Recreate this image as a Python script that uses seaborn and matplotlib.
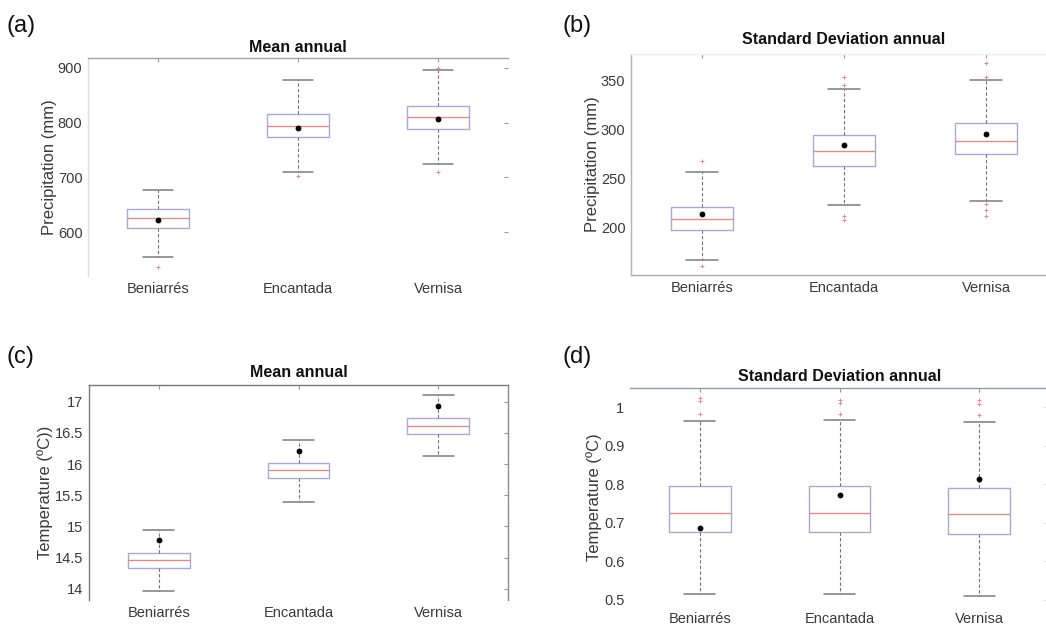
import numpy as np
import pandas as pd
import matplotlib
matplotlib.use("Agg")
import matplotlib.pyplot as plt
import seaborn as sns

# ---------------- data ----------------
categories = ["Beniarrés", "Encantada", "Vernisa"]

# (a) Precipitation, mean annual
a_low = [554, 710, 724]
a_q1 = [607, 773, 788]
a_med = [625, 793, 810]
a_q3 = [642, 816, 831]
a_high = [677, 878, 896]
a_mean = [622, 791, 807]
a_out_site = ["Beniarrés", "Encantada", "Vernisa", "Vernisa"]
a_out_val = [537, 703, 899, 709]

# (b) Precipitation, standard deviation annual
b_low = [167, 223.5, 227.6]
b_q1 = [197.7, 263.4, 275]
b_med = [209, 278, 288.6]
b_q3 = [221.5, 295, 306.4]
b_high = [256.6, 341, 350.7]
b_mean = [214, 284.6, 295.5]
b_out_site = ["Beniarrés", "Beniarrés", "Encantada", "Encantada", "Encantada", "Encantada",
              "Vernisa", "Vernisa", "Vernisa", "Vernisa", "Vernisa"]
b_out_val = [268, 161.5, 354, 345, 212, 208, 368, 354, 224, 218, 212]

# (c) Temperature, mean annual
c_low = [13.96, 15.40, 16.13]
c_q1 = [14.33, 15.77, 16.49]
c_med = [14.46, 15.90, 16.62]
c_q3 = [14.58, 16.02, 16.74]
c_high = [14.95, 16.39, 17.11]
c_mean = [14.78, 16.21, 16.94]
c_out_site = []
c_out_val = []

# (d) Temperature, standard deviation annual
d_low = [0.515, 0.515, 0.510]
d_q1 = [0.675, 0.675, 0.670]
d_med = [0.726, 0.726, 0.724]
d_q3 = [0.796, 0.796, 0.791]
d_high = [0.965, 0.966, 0.961]
d_mean = [0.686, 0.772, 0.814]
d_out_site = ["Beniarrés", "Beniarrés", "Beniarrés", "Encantada", "Encantada", "Encantada",
              "Vernisa", "Vernisa", "Vernisa"]
d_out_val = [1.025, 1.016, 0.982, 1.02, 1.01, 0.982, 1.019, 1.009, 0.98]

a_ticks = [600, 700, 800, 900]
b_ticks = [200, 250, 300, 350]
c_ticks = [14, 14.5, 15, 15.5, 16, 16.5, 17]
c_ticklabels = ["14", "14.5", "15", "15.5", "16", "16.5", "17"]
d_ticks = [0.5, 0.6, 0.7, 0.8, 0.9, 1.0]
d_ticklabels = ["0.5", "0.6", "0.7", "0.8", "0.9", "1"]

# ---------------- style ----------------
sns.set_theme(style="white")
plt.rcParams["font.family"] = ["Liberation Sans", "DejaVu Sans"]
plt.rcParams["axes.facecolor"] = "white"
plt.rcParams["figure.facecolor"] = "white"

BOX = "#a9a9d2"
MED = "#e08a8a"
WHISK = "#74747f"
CAP = "#7c7c7c"
OUT = "#e08a8a"
TXT = "#3a3a3a"

fig = plt.figure(figsize=(10.46, 6.25), dpi=100)
W, H = 1046, 625


def add_ax(left, top, right, bottom):
    return fig.add_axes([left / W, 1 - bottom / H, (right - left) / W, (bottom - top) / H])


def box_frame(lo, q1, med, q3, hi):
    rows = []
    for i, c in enumerate(categories):
        for v in (lo[i], q1[i], med[i], q3[i], hi[i]):
            rows.append((c, v))
    return pd.DataFrame(rows, columns=["site", "value"])


def panel(ax, lo, q1, med, q3, hi, mean, out_site, out_val, ticks, ticklabels,
          ylim, ylabel, title, label_x, spines, title_pad):
    df = box_frame(lo, q1, med, q3, hi)
    sns.boxplot(data=df, x="site", y="value", order=categories, ax=ax,
                fill=False, color=BOX, linewidth=1.0, whis=(0, 100), width=0.44,
                medianprops=dict(color=MED, linewidth=1.0),
                whiskerprops=dict(color=WHISK, linestyle=(0, (3, 2)), linewidth=0.8),
                capprops=dict(color=CAP, linewidth=1.1))
    if len(out_val):
        sns.stripplot(x=out_site, y=out_val, order=categories, ax=ax, jitter=False,
                      marker="+", color=OUT, size=3.2, linewidth=0.7, zorder=4)
    sns.stripplot(x=categories, y=mean, order=categories, ax=ax, jitter=False,
                  color="black", size=4.2, zorder=5)
    ax.set_xlim(-0.5, 2.5)
    ax.set_ylim(*ylim)
    ax.set_yticks(ticks)
    ax.set_yticklabels(ticklabels)
    ax.set_xlabel("")
    ax.set_ylabel(ylabel, fontsize=12, color=TXT)
    ax.yaxis.set_label_coords(label_x, 0.5)
    ax.set_title(title, fontsize=11.5, fontweight="bold", color="#111111", pad=title_pad)
    ax.tick_params(axis="both", direction="in", length=3, width=0.8, color="#9a9a9a",
                   labelsize=10.5, labelcolor=TXT, top=True, right=True, pad=4)
    for side, col in spines.items():
        ax.spines[side].set_visible(col is not None)
        if col is not None:
            ax.spines[side].set_color(col)
            ax.spines[side].set_linewidth(1.0)


ax_a = add_ax(88, 58, 508, 276)
panel(ax_a, a_low, a_q1, a_med, a_q3, a_high, a_mean, a_out_site, a_out_val,
      a_ticks, [str(t) for t in a_ticks], (520, 918), "Precipitation (mm)", "Mean annual",
      -0.074, {"top": "#a2a2b4", "left": "#dcdce4", "right": None, "bottom": None}, 4)

ax_b = add_ax(631, 54, 1057, 275)
panel(ax_b, b_low, b_q1, b_med, b_q3, b_high, b_mean, b_out_site, b_out_val,
      b_ticks, [str(t) for t in b_ticks], (152, 377), "Precipitation (mm)",
      "Standard Deviation annual",
      -0.073, {"top": "#eeeeee", "left": "#b4b4b4", "right": None, "bottom": "#aaaaaa"}, 7)

ax_c = add_ax(89, 385, 508, 600)
panel(ax_c, c_low, c_q1, c_med, c_q3, c_high, c_mean, c_out_site, c_out_val,
      c_ticks, c_ticklabels, (13.82, 17.27), "Temperature (ºC))", "Mean annual",
      -0.086, {"top": "#7a7a7a", "left": "#7a7a7a", "right": "#8a8a8a", "bottom": None}, 6)

ax_d = add_ax(630, 388, 1049, 606)
panel(ax_d, d_low, d_q1, d_med, d_q3, d_high, d_mean, d_out_site, d_out_val,
      d_ticks, d_ticklabels, (0.484, 1.05), "Temperature (ºC)", "Standard Deviation annual",
      -0.067, {"top": "#8fa0a0", "left": None, "right": None, "bottom": None}, 5)

# panel letters
for txt, x, y in [("(a)", 6, 26), ("(b)", 562, 26), ("(c)", 6, 357), ("(d)", 562, 357)]:
    fig.text(x / W, 1 - y / H, txt, fontsize=17, color="#111111", ha="left", va="center")

fig.savefig("out.png", dpi=100)
